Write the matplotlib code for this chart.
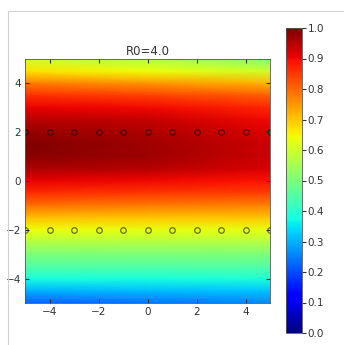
import numpy as np
import matplotlib
matplotlib.use('Agg')
import matplotlib.pyplot as plt
from matplotlib.patches import Rectangle

# field values: rows are y, columns are x
x_nodes = [-5, 0, 5]
y_nodes = [5.0, 4.5, 4.0, 3.5, 3.0, 2.5, 2.0, 1.5, 1.0, 0.5, 0.0,
           -0.5, -1.0, -1.5, -2.0, -2.5, -3.0, -3.5, -4.0, -4.5, -5.0]
col_left = [0.60, 0.67, 0.78, 0.86, 0.91, 0.95, 0.98, 1.00, 0.99, 0.96, 0.91,
            0.86, 0.79, 0.71, 0.64, 0.57, 0.50, 0.45, 0.38, 0.30, 0.22]
col_mid = [0.56, 0.64, 0.75, 0.84, 0.90, 0.94, 0.96, 0.97, 0.97, 0.95, 0.90,
           0.85, 0.78, 0.70, 0.63, 0.57, 0.50, 0.45, 0.38, 0.31, 0.24]
col_right = [0.50, 0.60, 0.72, 0.81, 0.87, 0.90, 0.92, 0.93, 0.93, 0.92, 0.89,
             0.84, 0.77, 0.70, 0.63, 0.57, 0.50, 0.45, 0.39, 0.32, 0.26]

# marker rows
marker_x = [-5, -4, -3, -2, -1, 0, 1, 2, 3, 4, 5]
marker_y = [2, -2]

cbar_ticks = [0.0, 0.1, 0.2, 0.3, 0.4, 0.5, 0.6, 0.7, 0.8, 0.9, 1.0]

Z = np.array([col_left, col_mid, col_right]).T

fig = plt.figure(figsize=(3.44, 3.45), dpi=100)

# light frame around the screenshot
fig.patches.append(Rectangle((8 / 344, -0.05), 1.2, (345 - 11) / 345 + 0.05,
                             transform=fig.transFigure, fill=False,
                             edgecolor='#d0d0d0', linewidth=0.8))

ax = fig.add_axes([25 / 344, 1 - 303 / 345, 245 / 344, 244 / 345])
mesh = ax.pcolormesh(x_nodes, y_nodes, Z, shading='gouraud', cmap='jet', vmin=0, vmax=1)

for yy in marker_y:
    ax.plot(marker_x, [yy] * len(marker_x), 'o', markerfacecolor='none',
            markeredgecolor='black', markeredgewidth=0.9, markersize=4, alpha=0.55)

ax.set_xlim(-5, 5)
ax.set_ylim(-5, 5)
ax.set_xticks([-4, -2, 0, 2, 4])
ax.set_yticks([-4, -2, 0, 2, 4])
ax.tick_params(direction='in', top=True, right=True, labelsize=7.5, length=3,
               colors='#333333', labelcolor='#333333', pad=3)
for s in ax.spines.values():
    s.set_color('#555555')
    s.set_linewidth(0.6)
ax.set_title('R0=4.0', fontsize=8.5, color='#333333', pad=3)

cax = fig.add_axes([286 / 344, 1 - 333 / 345, 16 / 344, 305 / 345])
cb = fig.colorbar(mesh, cax=cax, ticks=cbar_ticks)
cb.ax.tick_params(labelsize=7.5, length=3, colors='#333333', labelcolor='#333333', pad=1)
cb.outline.set_edgecolor('#555555')
cb.outline.set_linewidth(0.6)
cb.ax.set_yticklabels(['%.1f' % t for t in cbar_ticks])

fig.savefig('out.png', dpi=100)
